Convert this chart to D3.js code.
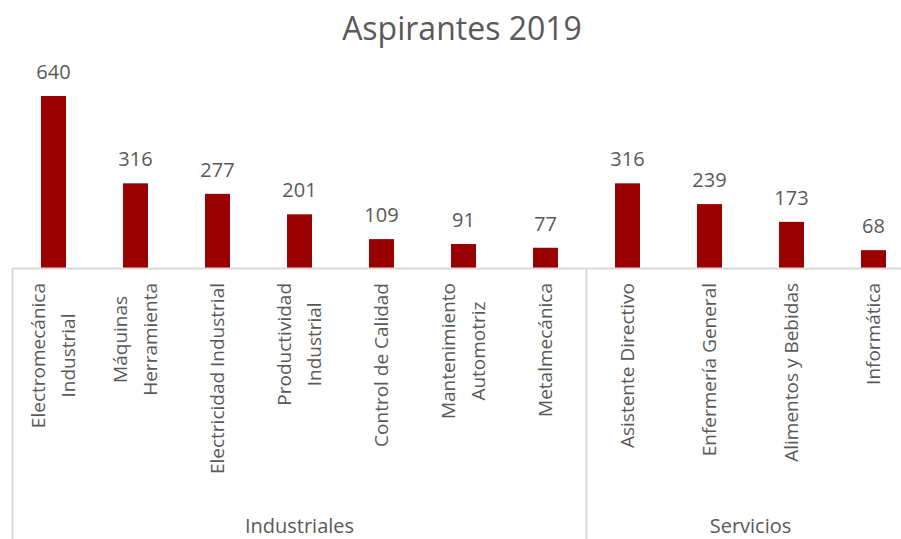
<!DOCTYPE html>
<html><head><meta charset="utf-8">
<script src="https://cdn.jsdelivr.net/npm/d3@7"></script>
<style>body{margin:0;background:#fff}svg{display:block}</style>
</head><body>
<svg id="c" width="901" height="539"></svg>
<script>
const categories = [
  ["Electromecánica","Industrial"],
  ["Máquinas","Herramienta"],
  ["Electricidad Industrial"],
  ["Productividad","Industrial"],
  ["Control de Calidad"],
  ["Mantenimiento","Automotriz"],
  ["Metalmecánica"],
  ["Asistente Directivo"],
  ["Enfermería General"],
  ["Alimentos y Bebidas"],
  ["Informática"]
];
const values = [640, 316, 277, 201, 109, 91, 77, 316, 239, 173, 68];
const groups = ["Industriales", "Servicios"];
const groupSizes = [7, 4];
const title = "Aspirantes 2019";

const svg = d3.select("#c");
const font = "'Open Sans', sans-serif";
const textCol = "#595959";
const lineCol = "#d9d9d9";
const barCol = "#990000";

const x0 = 12.5, step = 82, baseY = 268.5;
const idx = d3.range(values.length);
const x = d3.scaleBand().domain(idx).range([x0, x0 + step * values.length]).paddingInner(0.695).paddingOuter(0.3475);
const y = d3.scaleLinear().domain([0, 640]).range([baseY, 96]);

svg.append("text").attr("x", 462).attr("y", 40).attr("text-anchor", "middle")
  .attr("font-family", font).attr("font-size", 32).attr("fill", textCol).text(title);

svg.selectAll("rect.bar").data(values).enter().append("rect")
  .attr("x", (d, i) => x(i)).attr("width", x.bandwidth())
  .attr("y", d => y(d)).attr("height", d => baseY - y(d)).attr("fill", barCol);

svg.selectAll("text.val").data(values).enter().append("text")
  .attr("x", (d, i) => x(i) + x.bandwidth() / 2).attr("y", d => y(d) - 17)
  .attr("text-anchor", "middle").attr("font-family", font).attr("font-size", 20)
  .attr("fill", textCol).text(d => d);

// axis line
svg.append("line").attr("x1", x0).attr("x2", 901).attr("y1", baseY).attr("y2", baseY)
  .attr("stroke", lineCol).attr("stroke-width", 2);

// group separators
let acc = 0;
const seps = [0];
groupSizes.forEach(s => { acc += s; seps.push(acc); });
seps.forEach(k => {
  const xx = x0 + k * step;
  svg.append("line").attr("x1", xx).attr("x2", xx).attr("y1", baseY).attr("y2", 539)
    .attr("stroke", lineCol).attr("stroke-width", 2);
});
groups.forEach((g, gi) => {
  const cx = x0 + (seps[gi] + seps[gi + 1]) / 2 * step;
  svg.append("text").attr("x", cx).attr("y", 533).attr("text-anchor", "middle")
    .attr("font-family", font).attr("font-size", 20).attr("fill", textCol).text(g);
});

// category labels rotated
const labelTop = 283, lh = 30;
categories.forEach((lines, i) => {
  const cx = x(i) + x.bandwidth() / 2;
  const gEl = svg.append("g");
  const ts = lines.map((ln, j) => gEl.append("text").attr("font-family", font).attr("font-size", 19)
    .attr("fill", textCol).attr("text-anchor", "middle").text(ln));
  const maxW = d3.max(ts, t => t.node().getComputedTextLength());
  const cy = labelTop + maxW / 2;
  ts.forEach((t, j) => {
    const off = (j - (lines.length - 1) / 2) * lh;
    t.attr("transform", `translate(${cx + off + 6.5},${cy}) rotate(-90)`);
  });
});
</script>
</body></html>
